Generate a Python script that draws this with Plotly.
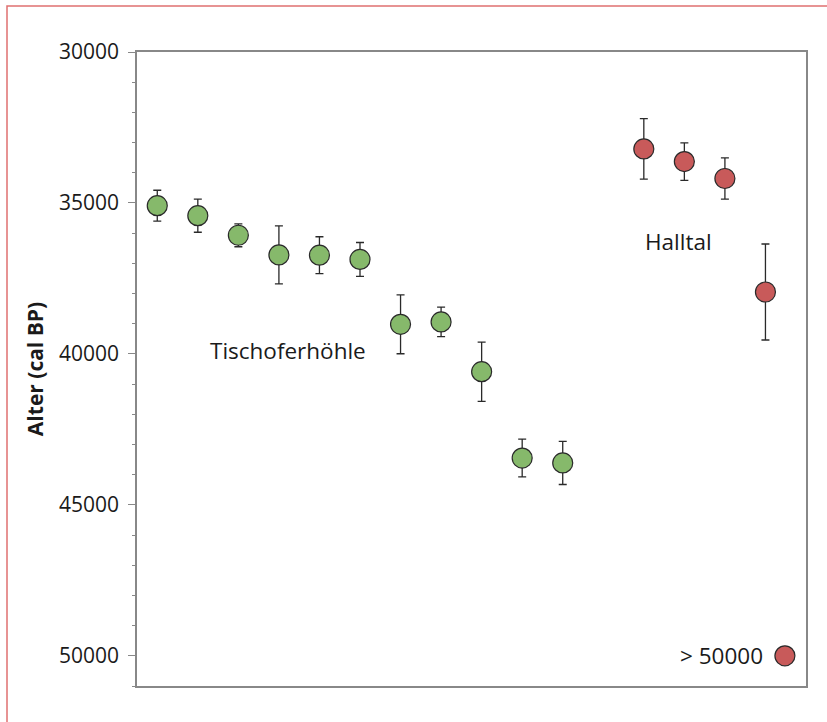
import plotly.graph_objects as go

# Tischoferhöhle (green)
tisch_x = [1, 2, 3, 4, 5, 6, 7, 8, 9, 10, 11]
tisch_age = [35090, 35420, 36070, 36720, 36730, 36870, 39020, 38940, 40590, 43450, 43610]
tisch_err = [510, 550, 380, 960, 610, 560, 975, 490, 980, 625, 715]

# Halltal (red)
hall_x = [13, 14, 15, 16]
hall_age = [33210, 33630, 34190, 37950]
hall_err = [1000, 620, 680, 1590]

# beyond-range sample
over_x = [16.48]
over_age = [50000]
over_label = "> 50000"

y_ticks = [30000, 35000, 40000, 45000, 50000]

green = "#86b96b"
red = "#c85a5a"
edge = "#2a2a2a"
font_fam = "Open Sans, Noto Sans, sans-serif"

fig = go.Figure()
fig.add_trace(go.Scatter(
    x=tisch_x, y=tisch_age, mode="markers",
    error_y=dict(type="data", array=tisch_err, color="#2a2a2a", thickness=1.3, width=4),
    marker=dict(size=20, color=green, line=dict(color=edge, width=1.2)),
    showlegend=False))
fig.add_trace(go.Scatter(
    x=hall_x, y=hall_age, mode="markers",
    error_y=dict(type="data", array=hall_err, color="#2a2a2a", thickness=1.3, width=4),
    marker=dict(size=20, color=red, line=dict(color=edge, width=1.2)),
    showlegend=False))
fig.add_trace(go.Scatter(
    x=over_x, y=over_age, mode="markers",
    marker=dict(size=20, color=red, line=dict(color=edge, width=1.2)),
    showlegend=False))

ann_font = dict(size=22.5, color="#1a1a1a")
fig.add_annotation(x=2.25, y=39900, text="Tischoferhöhle", showarrow=False,
                   xanchor="left", yanchor="middle", font=ann_font)
fig.add_annotation(x=12.98, y=36290, text="Halltal", showarrow=False,
                   xanchor="left", yanchor="middle", font=ann_font)
fig.add_annotation(x=16.0, y=50000, text=over_label, showarrow=False,
                   xanchor="right", yanchor="middle", font=ann_font)

# outer pink frame
fig.add_shape(type="rect", xref="paper", yref="paper",
              x0=(7 - 137) / 669, x1=(830 - 137) / 669,
              y0=(686 - 730) / 634, y1=(686 - 6) / 634,
              line=dict(color="#e07070", width=1.5), layer="below")

fig.update_layout(
    width=827, height=722,
    margin=dict(l=137, r=21, t=52, b=36),
    paper_bgcolor="white", plot_bgcolor="white",
    font=dict(family=font_fam, size=21, color="#1a1a1a"),
    xaxis=dict(range=[0.5, 17], showticklabels=False, ticks="", showgrid=False,
               zeroline=False, showline=True, linecolor="#888888", linewidth=1.5, mirror=True),
    yaxis=dict(range=[51000, 30000], tickvals=y_ticks, ticktext=[str(v) for v in y_ticks],
               ticks="outside", ticklen=7, tickcolor="#888888", tickwidth=1.2,
               minor=dict(dtick=1000, ticks="outside", ticklen=3, tickcolor="#888888", tickwidth=1),
               showgrid=False, zeroline=False, showline=True, linecolor="#888888",
               linewidth=1.5, mirror=True, ticklabelstandoff=5,
               tickfont=dict(size=21),
               title=dict(text="<b>Alter (cal BP)</b>", font=dict(size=21), standoff=10)),
)

fig.write_html("out.html", config={"displayModeBar": False},
               post_script="document.body.style.margin='0';document.body.style.overflow='hidden';")
